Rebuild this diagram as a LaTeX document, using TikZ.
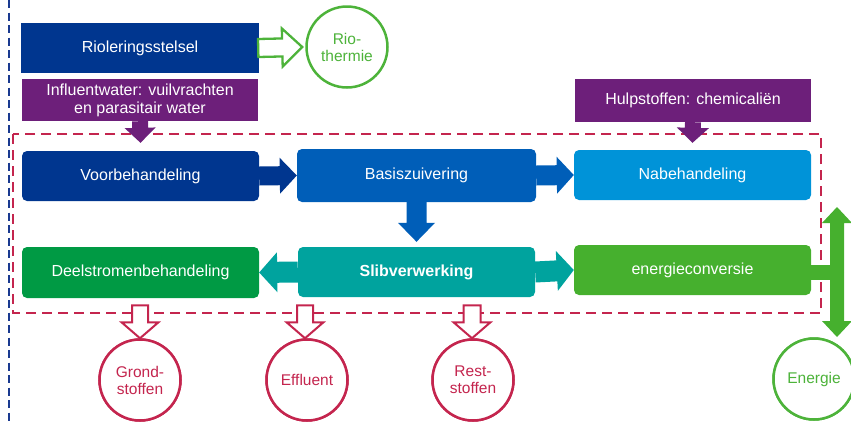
\documentclass[tikz,border=0pt]{standalone}
\usepackage{fontspec}
\setmainfont{Liberation Sans}
\usetikzlibrary{calc}

\definecolor{navy}{HTML}{00368F}
\definecolor{midblue}{HTML}{005EB8}
\definecolor{skyblue}{HTML}{0093D8}
\definecolor{teal}{HTML}{00A39E}
\definecolor{darkgreen}{HTML}{009A44}
\definecolor{lightgreen}{HTML}{46B02E}
\definecolor{ringgreen}{HTML}{4DB33A}
\definecolor{purple}{HTML}{6D1F7A}
\definecolor{crimson}{HTML}{C4254E}
\definecolor{lineblue}{HTML}{1A3A90}

% Fat arrow from #2 to the tip #3:
% #1 style, #4 half shaft width, #5 half head width, #6 head length
\newcommand\blockarrow[6]{%
  \path ($(#3)!#6!(#2)$) coordinate (bab);
  \path[#1] ($(#2)!#4!90:(#3)$) -- ($(bab)!#4!-90:(#2)$)
    -- ($(bab)!#5!-90:(#2)$) -- (#3) -- ($(bab)!#5!90:(#2)$)
    -- ($(bab)!#4!90:(#2)$) -- ($(#2)!#4!-90:(#3)$) -- cycle;
}

\tikzset{
  txt/.style={font=\fontsize{16}{18}\selectfont, text=white, align=center},
  flatbox/.style={txt, inner sep=0pt},
  stepbox/.style={txt, inner sep=0pt, rounded corners=5pt},
  ring/.style={circle, line width=2.5pt, inner sep=0pt, minimum size=81pt,
    fill=white, align=center, font=\fontsize{15.5}{17}\selectfont},
  redring/.style={ring, draw=crimson, text=crimson},
  greenring/.style={ring, draw=ringgreen, text=ringgreen},
  openred/.style={draw=crimson, fill=white, line width=2pt},
  opengreen/.style={draw=ringgreen, fill=white, line width=2.3pt},
  solid fill/.style={fill=#1},
}

\begin{document}
\begin{tikzpicture}[x=1pt, y=-1pt]
  \useasboundingbox (0,0) rectangle (851,421);

  % boundary of the sewer system
  \draw[lineblue, line width=2.4pt, dash pattern=on 8pt off 4.5pt] (9,0) -- (9,421);

  % treatment plant boundary
  \draw[crimson, line width=2.5pt, dash pattern=on 10pt off 6pt] (13,134) rectangle (821,313);

  % inputs
  \node[flatbox, fill=navy, minimum width=238pt, minimum height=50pt] (riol) at (140,48) {Rioleringsstelsel};
  \node[flatbox, fill=purple, minimum width=236pt, minimum height=42pt] (infl) at (140,100)
    {Influentwater: vuilvrachten\\en parasitair water};
  \node[flatbox, fill=purple, minimum width=236pt, minimum height=43pt] (hulp) at (693,100.5)
    {Hulpstoffen: chemicaliën};

  % process steps
  \node[stepbox, fill=navy, minimum width=237pt, minimum height=50pt] (voor) at (140.5,176) {Voorbehandeling};
  \node[stepbox, fill=midblue, minimum width=239pt, minimum height=53pt] (basis) at (416.5,175.5) {Basiszuivering};
  \node[stepbox, fill=skyblue, minimum width=237pt, minimum height=50pt] (nabe) at (692.5,175) {Nabehandeling};
  \node[stepbox, fill=darkgreen, minimum width=237pt, minimum height=51pt] (deel) at (140.5,272.5) {Deelstromenbehandeling};
  \node[stepbox, fill=teal, minimum width=237pt, minimum height=50pt, font=\fontsize{16}{18}\selectfont\bfseries] (slib) at (416.5,272) {Slibverwerking};
  \node[stepbox, fill=lightgreen, minimum width=237pt, minimum height=50pt] (econv) at (692.5,270) {energieconversie};

  % tips that stop short of their targets
  \coordinate (infltip) at ($(voor.north)+(0,-8)$);
  \coordinate (hulptip) at ($(nabe.north)+(0,-7)$);
  \coordinate (sliboven) at ($(slib.north)+(0,-5)$);

  % flows between the steps
  \blockarrow{solid fill=purple}{infl.south}{infltip}{8pt}{15.5pt}{15pt}
  \blockarrow{solid fill=purple}{hulp.south}{hulptip}{8pt}{16pt}{15pt}
  \blockarrow{solid fill=navy}{voor.east}{basis.west}{9.5pt}{18pt}{17pt}
  \blockarrow{solid fill=midblue}{basis.east}{nabe.west}{10pt}{18.5pt}{17pt}
  \blockarrow{solid fill=midblue}{basis.south}{sliboven}{10pt}{18.5pt}{19pt}
  \blockarrow{solid fill=teal}{slib.west}{deel.east}{10.5pt}{20pt}{18pt}
  \blockarrow{solid fill=teal}{slib.east}{econv.west}{10.5pt}{20pt}{17pt}

  % outputs
  \node[greenring] (rio) at (347,47) {Rio-\\thermie};
  \node[redring] (grond) at (140,380) {Grond-\\stoffen};
  \node[redring] (effl) at (307,380) {Effluent};
  \node[redring] (rest) at (473,380) {Rest-\\stoffen};
  \node[greenring] (energie) at (814,379) {Energie};

  \coordinate (riostart) at ($(riol.east)+(-1,0)$);
  \coordinate (riotip) at ($(rio.west)+(-3,0)$);
  \blockarrow{opengreen}{riostart}{riotip}{9pt}{19pt}{20pt}

  \coordinate (grondstart) at ($(grond.north)+(0,-33)$);
  \coordinate (efflstart) at ($(effl.north)+(-2,-33)$);
  \coordinate (effltip) at ($(effl.north)+(-2,0)$);
  \coordinate (reststart) at ($(rest.north)+(-1,-33)$);
  \coordinate (resttip) at ($(rest.north)+(-1,0)$);
  \blockarrow{openred}{grondstart}{grond.north}{8pt}{18.5pt}{16pt}
  \blockarrow{openred}{efflstart}{effltip}{8pt}{18.5pt}{16pt}
  \blockarrow{openred}{reststart}{resttip}{8.5pt}{18.5pt}{16pt}

  % energy exchange: in and out
  \coordinate (emid) at (837,272);
  \coordinate (etop) at (837,207);
  \coordinate (ebot) at (837,337);
  \fill[lightgreen] ($(econv.east)+(-3,-5)$) rectangle ($(emid)+(0,8)$);
  \blockarrow{solid fill=lightgreen}{emid}{etop}{7pt}{15pt}{16pt}
  \blockarrow{solid fill=lightgreen}{emid}{ebot}{7pt}{15pt}{16pt}

  % circles redrawn over the arrow tips
  \node[redring] at (grond) {Grond-\\stoffen};
  \node[redring] at (effl) {Effluent};
  \node[redring] at (rest) {Rest-\\stoffen};
  \node[greenring] at (energie) {Energie};
\end{tikzpicture}
\end{document}
